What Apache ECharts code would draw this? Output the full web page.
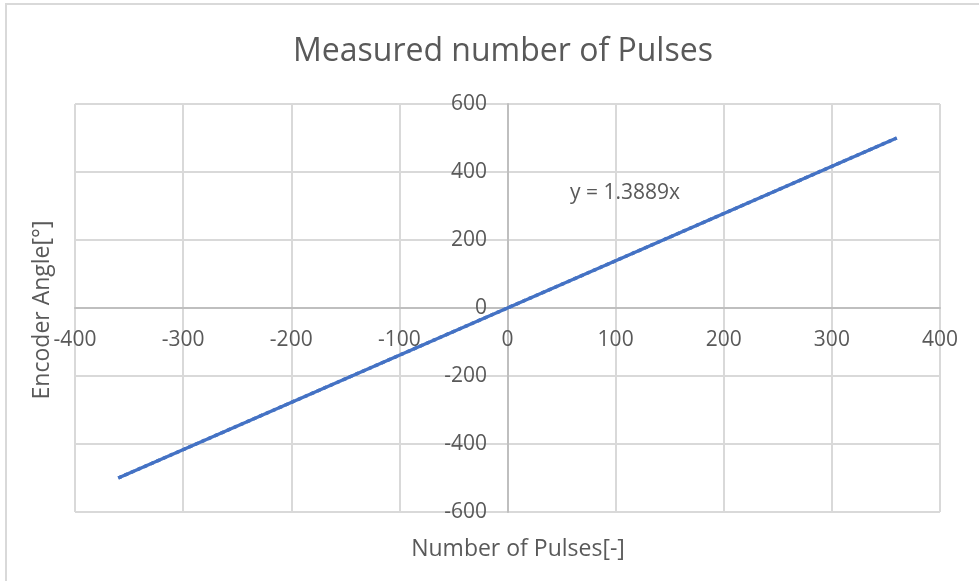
<!DOCTYPE html>
<html lang="en">
<head>
    <meta charset="UTF-8">
    <title>Measured number of Pulses</title>
    <style>
        html, body { margin: 0; padding: 0; background: #fff; }
        #main { width: 979px; height: 581px; }
    </style>
    <script src="https://cdn.jsdelivr.net/npm/echarts@6/dist/echarts.min.js"></script>
</head>
<body>
<div id="main"></div>
<script>
// measured points: pulses counted vs encoder angle
var pulses = [-360, -288, -216, -144, -72, 0, 72, 144, 216, 288, 360];
var angles = [-500, -400, -300, -200, -100, 0, 100, 200, 300, 400, 500];
// linear trendline end points (y = 1.3889x)
var trendX = [-360, 360];
var trendY = [-500, 500];
var trendLabel = 'y = 1.3889x';

var textColor = '#595959';
var gridColor = '#d9d9d9';
var font = '"Open Sans", sans-serif';

function pairs(xs, ys) {
    var out = [];
    for (var i = 0; i < xs.length; i++) {
        out.push([xs[i], ys[i]]);
    }
    return out;
}

var myChart = echarts.init(document.getElementById('main'));
var option = {
    animation: false,
    backgroundColor: '#fff',
    title: {
        text: 'Measured number of Pulses',
        left: 288,
        top: 31,
        textStyle: { color: textColor, fontSize: 32, fontWeight: 'normal', fontFamily: font }
    },
    grid: { left: 75, right: 39, top: 104, bottom: 69 },
    xAxis: {
        type: 'value',
        min: -400, max: 400, interval: 100,
        axisLine: { onZero: true, lineStyle: { color: '#bfbfbf', width: 2 } },
        axisTick: { show: false },
        // labels sit under the zero line, as in the original
        axisLabel: { color: textColor, fontSize: 21, fontFamily: font, margin: -182 },
        splitLine: { lineStyle: { color: gridColor, width: 2 } }
    },
    yAxis: {
        type: 'value',
        min: -600, max: 600, interval: 200,
        axisLine: { show: true, onZero: true, lineStyle: { color: '#bfbfbf', width: 2 } },
        axisTick: { show: false },
        axisLabel: { color: textColor, fontSize: 21, fontFamily: font, margin: -412 },
        splitLine: { lineStyle: { color: gridColor, width: 2 } }
    },
    graphic: [
        {
            type: 'rect', silent: true, z: -1,
            shape: { x: 6, y: 4, width: 1000, height: 600 },
            style: { fill: 'none', stroke: gridColor, lineWidth: 2 }
        },
        {
            type: 'text', x: 42, y: 310, rotation: Math.PI / 2,
            style: { text: 'Encoder Angle[°]', fill: textColor, font: '23px ' + font, align: 'center', verticalAlign: 'middle' }
        },
        {
            type: 'text', x: 518, y: 549,
            style: { text: 'Number of Pulses[-]', fill: textColor, font: '23px ' + font, align: 'center', verticalAlign: 'middle' }
        },
        {
            type: 'text', x: 625, y: 193,
            style: { text: trendLabel, fill: textColor, font: '21px ' + font, align: 'center', verticalAlign: 'middle' }
        }
    ],
    series: [
        {
            name: 'Trend',
            type: 'line',
            data: pairs(trendX, trendY),
            showSymbol: false,
            z: 1,
            lineStyle: { color: '#4472c4', width: 3.5, type: 'dotted' }
        },
        {
            name: 'Measured',
            type: 'line',
            data: pairs(pulses, angles),
            showSymbol: false,
            z: 2,
            lineStyle: { color: '#4472c4', width: 3.5 }
        }
    ]
};
myChart.setOption(option);
</script>
</body>
</html>
